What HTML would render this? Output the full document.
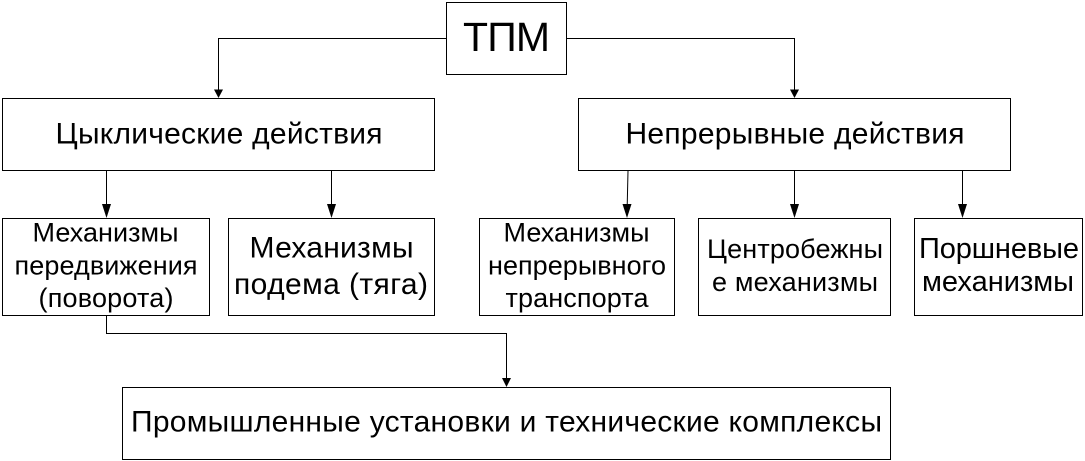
<!DOCTYPE html>
<html><head><meta charset="utf-8"><style>
html,body{margin:0;padding:0;background:#fff;width:1085px;height:461px;overflow:hidden}
svg{display:block}
text{font-family:"Liberation Sans",sans-serif;fill:#000;text-anchor:middle}
rect{fill:#fff;stroke:#000;stroke-width:1}
path.l{fill:none;stroke:#000;stroke-width:1}
path.a{fill:#000;stroke:none}
</style></head><body>
<svg width="1085" height="461" viewBox="0 0 1085 461" xmlns="http://www.w3.org/2000/svg">
<rect x="446.5" y="2.5" width="120" height="72"/>
<rect x="2.5" y="98.5" width="432" height="72"/>
<rect x="578.5" y="98.5" width="432" height="72"/>
<rect x="2.5" y="218.5" width="207" height="97"/>
<rect x="228.5" y="218.5" width="206" height="97"/>
<rect x="479.5" y="218.5" width="195" height="97"/>
<rect x="698.5" y="218.5" width="192" height="97"/>
<rect x="914.5" y="218.5" width="168" height="97"/>
<rect x="122.5" y="387.5" width="768" height="72"/>

<path class="l" d="M446 38.5H218.5V92"/><path class="a" d="M214 89.5H223L218.5 98Z"/>
<path class="l" d="M567 38.5H794.5V92"/><path class="a" d="M790 89.5H799L794.5 98Z"/>
<path class="l" d="M106.5 171V206"/><path class="a" d="M102 204H111L106.5 218Z"/>
<path class="l" d="M331.5 171V206"/><path class="a" d="M327 204H336L331.5 218Z"/>
<path class="l" d="M628 171L627.2 206"/><path class="a" d="M622.5 204H631.5L627 218Z"/>
<path class="l" d="M794.5 171V206"/><path class="a" d="M790 204H799L794.5 218Z"/>
<path class="l" d="M962.5 171V206"/><path class="a" d="M958 204H967L962.5 218Z"/>
<path class="l" d="M106.5 316V333.5H506.5V380"/><path class="a" d="M502 378H511L506.5 387Z"/>

<text x="506.5" y="51" font-size="41" textLength="87">ТПМ</text>
<text x="219" y="143.5" font-size="30" textLength="327">Цыклические действия</text>
<text x="795" y="143.5" font-size="30" textLength="339">Непрерывные действия</text>
<text x="105.5" y="241.5" font-size="27" textLength="146">Механизмы</text>
<text x="106" y="274.5" font-size="27" textLength="183">передвижения</text>
<text x="106" y="307" font-size="27" textLength="135">(поворота)</text>
<text x="331.5" y="257.5" font-size="30" textLength="164">Механизмы</text>
<text x="331" y="294" font-size="30" textLength="194">подема (тяга)</text>
<text x="576.5" y="241.5" font-size="27" textLength="146">Механизмы</text>
<text x="577" y="274.5" font-size="27" textLength="178">непрерывного</text>
<text x="577" y="307" font-size="27" textLength="143">транспорта</text>
<text x="795" y="258" font-size="27" textLength="176">Центробежны</text>
<text x="795" y="291" font-size="27" textLength="166">е механизмы</text>
<text x="999" y="258" font-size="29" textLength="160">Поршневые</text>
<text x="998" y="291" font-size="29" textLength="152">механизмы</text>
<text x="506.5" y="431.5" font-size="30" textLength="751">Промышленные установки и технические комплексы</text>
</svg>
</body></html>
